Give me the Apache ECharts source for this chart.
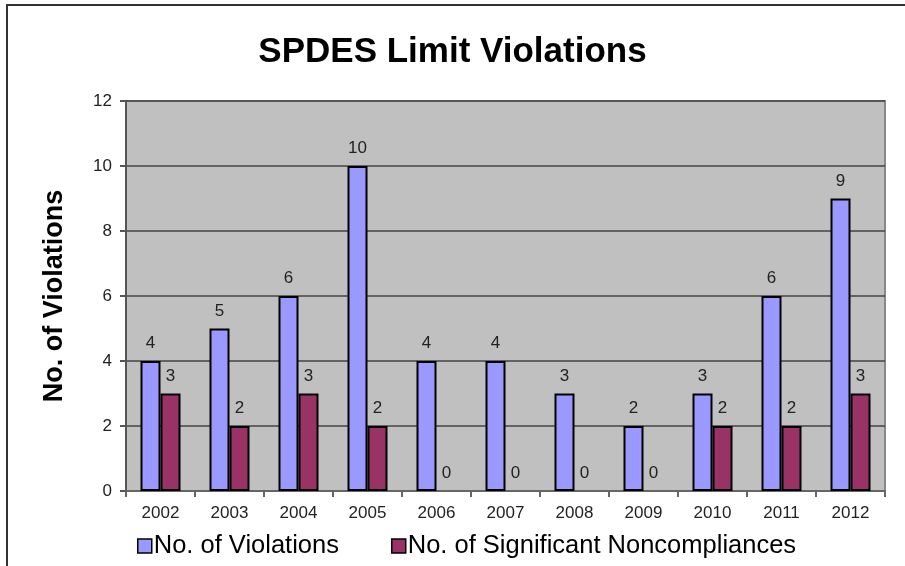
<!DOCTYPE html>
<html>
<head>
<meta charset="utf-8">
<script src="https://cdn.jsdelivr.net/npm/echarts@6/dist/echarts.min.js"></script>
<style>
  html, body { margin: 0; padding: 0; background: #fff; }
  #chart { width: 905px; height: 566px; }
</style>
</head>
<body>
<div id="chart"></div>
<script>
const years = ['2002', '2003', '2004', '2005', '2006', '2007', '2008', '2009', '2010', '2011', '2012']
const violations = [4, 5, 6, 10, 4, 4, 3, 2, 3, 6, 9]
const noncompliances = [3, 2, 3, 2, 0, 0, 0, 0, 2, 2, 3]

const myChart = echarts.init(document.getElementById('chart'))

const labelStyle = {
  show: true,
  position: 'top',
  distance: 9,
  color: '#222',
  fontFamily: 'Liberation Sans, Arial',
  fontSize: 17
}

// zero bars show only their label, no outline
const toItems = (arr) => arr.map(v => v === 0 ? { value: v, itemStyle: { borderWidth: 0 } } : v)

const option = {
  backgroundColor: '#fff',
  animation: false,
  title: {
    text: 'SPDES Limit Violations',
    left: 'center',
    top: 30,
    textStyle: {
      fontFamily: 'Liberation Sans, Arial',
      fontWeight: 'bold',
      fontSize: 35,
      color: '#000'
    }
  },
  legend: {
    left: 132,
    top: 528,
    itemWidth: 14,
    itemHeight: 14,
    itemGap: 52,
    icon: 'rect',
    itemStyle: { borderColor: '#000', borderWidth: 1.5 },
    textStyle: {
      fontFamily: 'Liberation Sans, Arial',
      fontSize: 25.5,
      color: '#000',
      padding: [0, 0, 0, -3]
    }
  },
  grid: {
    left: 126,
    right: 20,
    top: 101,
    bottom: 75,
    show: true,
    backgroundColor: '#c0c0c0',
    borderColor: '#888',
    borderWidth: 2
  },
  xAxis: {
    type: 'category',
    data: years,
    axisLine: { lineStyle: { color: '#666', width: 2 } },
    axisTick: { show: true, length: 6, lineStyle: { color: '#666', width: 2 } },
    axisLabel: {
      color: '#222',
      fontFamily: 'Liberation Sans, Arial',
      fontSize: 17,
      margin: 14
    }
  },
  yAxis: {
    type: 'value',
    min: 0,
    max: 12,
    interval: 2,
    name: 'No. of Violations',
    nameLocation: 'middle',
    nameGap: 58,
    nameTextStyle: {
      fontFamily: 'Liberation Sans, Arial',
      fontWeight: 'bold',
      fontSize: 27,
      color: '#000'
    },
    axisLine: { show: true, lineStyle: { color: '#555', width: 2 } },
    axisTick: { show: true, inside: false, length: 6, lineStyle: { color: '#555', width: 2 } },
    axisLabel: {
      color: '#222',
      fontFamily: 'Liberation Sans, Arial',
      fontSize: 17,
      margin: 14
    },
    splitLine: { lineStyle: { color: '#444', width: 1.5 } }
  },
  graphic: [
    {
      type: 'polyline',
      shape: { points: [[7, 566], [7, 5], [905, 5]] },
      style: { stroke: '#333', lineWidth: 2, fill: null }
    }
  ],
  series: [
    {
      name: 'No. of Violations',
      type: 'bar',
      data: toItems(violations),
      barWidth: 20,
      barGap: '0%',
      itemStyle: { color: '#9999ff', borderColor: '#000', borderWidth: 2 },
      label: labelStyle
    },
    {
      name: 'No. of Significant Noncompliances',
      type: 'bar',
      data: toItems(noncompliances),
      barWidth: 20,
      itemStyle: { color: '#993366', borderColor: '#000', borderWidth: 2 },
      label: labelStyle
    }
  ]
}

myChart.setOption(option)
</script>
</body>
</html>
